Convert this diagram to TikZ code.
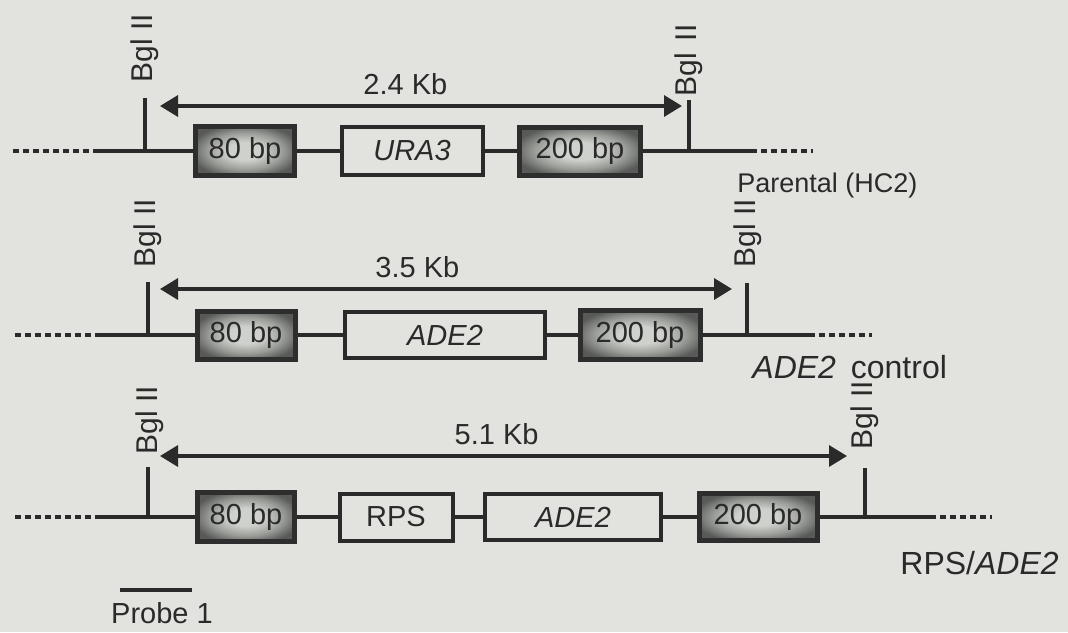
\documentclass[tikz,border=0pt]{standalone}
\usepackage{fontspec}
\setmainfont{Liberation Sans}
\usepackage{xcolor}
\usetikzlibrary{arrows.meta}

\definecolor{bgc}{HTML}{E2E3DE}
\definecolor{ink}{HTML}{2A2A2A}
\definecolor{boxedge}{HTML}{2E2E2E}
\definecolor{shadein}{HTML}{CFD1CC}
\definecolor{shademid}{HTML}{9A9C98}
\definecolor{shadeout}{HTML}{585A58}
\pgfdeclareradialshading{boxshade}{\pgfpoint{0bp}{0bp}}{%
  color(0bp)=(shadein); color(9bp)=(shadein); color(19bp)=(shademid); color(28bp)=(shadeout); color(50bp)=(shadeout)}
\newcommand\bpfont{\fontsize{14.5}{17}\selectfont}
\newcommand\sitefont{\fontsize{15}{18}\selectfont}
\newcommand\tagfont{\fontsize{16}{19}\selectfont}

\begin{document}
\begin{tikzpicture}[x=0.5pt,y=-0.5pt,>={Triangle[length=9pt,width=10.5pt]},
  seg/.style={draw=ink,line width=2.25pt},
  dots/.style={draw=ink,line width=2.25pt,dash pattern=on 3pt off 2pt},
  site/.style={draw=ink,line width=2pt},
  dim/.style={<->,draw=ink,line width=1.7pt},
  grey/.style={draw=boxedge,line width=2.5pt,shading=boxshade,inner sep=0pt,text=ink,font=\bpfont},
  plain/.style={draw=ink,line width=2pt,fill=bgc,inner sep=0pt,text=ink,font=\bpfont},
  bgl/.style={rotate=90,anchor=west,inner sep=0pt,text=ink,font=\sitefont},
  kb/.style={above=5pt,inner sep=0pt,text=ink,font=\bpfont},
  tag/.style={anchor=west,inner sep=0pt,text=ink,font=\tagfont}]
  \path[use as bounding box,fill=bgc] (0,0) rectangle (1068,632);
  % row 1: parental (HC2)
  \coordinate (p0) at (13,151);
  \coordinate (p1) at (96,151);
  \node[grey,minimum width=49.5pt,minimum height=24.5pt] (p80) at (245,151) {80 bp};
  \node[plain,minimum width=70.5pt,minimum height=24pt] (pura) at (412,151) {\itshape URA3};
  \node[grey,minimum width=60.5pt,minimum height=24pt] (p200) at (580,151) {200 bp};
  \coordinate (p2) at (751,151);
  \coordinate (p3) at (813,151);
  \draw[dots] (p0) -- (p1);
  \draw[seg] (p1) -- (p80);
  \draw[seg] (p80) -- (pura);
  \draw[seg] (pura) -- (p200);
  \draw[seg] (p200) -- (p2);
  \draw[dots] (p2) -- (p3);
  \coordinate (pL) at (145,98);
  \coordinate (pR) at (689,100);
  \draw[site] (pL) -- (pL |- p1);
  \draw[site] (pR) -- (pR |- p1);
  \node[bgl] (pLb) at (145,83) {Bgl II};
  \node[bgl] (pRb) at (689,97) {Bgl\hspace{6pt}II};
  \coordinate (pa) at (160,106);
  \coordinate (pb) at (682,106);
  \draw[dim] (pa) -- node[kb,pos=0.47] (pkb) {2.4 Kb} (pb);
  \node[tag,font=\fontsize{13.5}{16}\selectfont] (ptag) at (737,186) {Parental (HC2)};
  % row 2: ADE2 control
  \coordinate (q0) at (15,335);
  \coordinate (q1) at (99,335);
  \node[grey,minimum width=49pt,minimum height=24pt] (q80) at (246,335) {80 bp};
  \node[plain,minimum width=100pt,minimum height=23pt] (qade) at (445,335) {\itshape ADE2};
  \node[grey,minimum width=60pt,minimum height=24.5pt] (q200) at (640,335) {200 bp};
  \coordinate (q2) at (809,335);
  \coordinate (q3) at (872,335);
  \draw[dots] (q0) -- (q1);
  \draw[seg] (q1) -- (q80);
  \draw[seg] (q80) -- (qade);
  \draw[seg] (qade) -- (q200);
  \draw[seg] (q200) -- (q2);
  \draw[dots] (q2) -- (q3);
  \coordinate (qL) at (148,282);
  \coordinate (qR) at (747,283);
  \draw[site] (qL) -- (qL |- q1);
  \draw[site] (qR) -- (qR |- q1);
  \node[bgl] (qLb) at (148,268) {Bgl II};
  \node[bgl] (qRb) at (748,268) {Bgl II};
  \coordinate (qa) at (160,289);
  \coordinate (qb) at (732,289);
  \draw[dim] (qa) -- node[kb,pos=0.45] (qkb) {3.5 Kb} (qb);
  \node[tag] (qtag) at (752,367) {\textit{ADE2}\hspace{3pt} control};
  % row 3: RPS/ADE2
  \coordinate (r0) at (15,517);
  \coordinate (r1) at (99,517);
  \node[grey,minimum width=48.5pt,minimum height=24.5pt] (r80) at (246,517) {80 bp};
  \node[plain,minimum width=56.5pt,minimum height=23.5pt] (rrps) at (396,517) {RPS};
  \node[plain,minimum width=88pt,minimum height=23pt] (rade) at (573,517) {\itshape ADE2};
  \node[grey,minimum width=59pt,minimum height=23.5pt] (r200) at (758,517) {200 bp};
  \coordinate (r2) at (930,517);
  \coordinate (r3) at (992,517);
  \draw[dots] (r0) -- (r1);
  \draw[seg] (r1) -- (r80);
  \draw[seg] (r80) -- (rrps);
  \draw[seg] (rrps) -- (rade);
  \draw[seg] (rade) -- (r200);
  \draw[seg] (r200) -- (r2);
  \draw[dots] (r2) -- (r3);
  \coordinate (rL) at (148,467);
  \coordinate (rR) at (865,468);
  \draw[site] (rL) -- (rL |- r1);
  \draw[site] (rR) -- (rR |- r1);
  \node[bgl] (rLb) at (150,455) {Bgl II};
  \node[bgl] (rRb) at (865,450) {Bgl II};
  \coordinate (ra) at (160,456);
  \coordinate (rb) at (847,456);
  \draw[dim] (ra) -- node[kb,pos=0.49] (rkb) {5.1 Kb} (rb);
  \node[tag] (rtag) at (900,563) {RPS/\textit{ADE2}};
  % probe
  \coordinate (s0) at (120,590);
  \coordinate (s1) at (192,590);
  \draw[seg] (s0) -- (s1);
  \node[inner sep=0pt,text=ink,font=\bpfont] (stag) at (162,613) {Probe 1};
\end{tikzpicture}
\end{document}
